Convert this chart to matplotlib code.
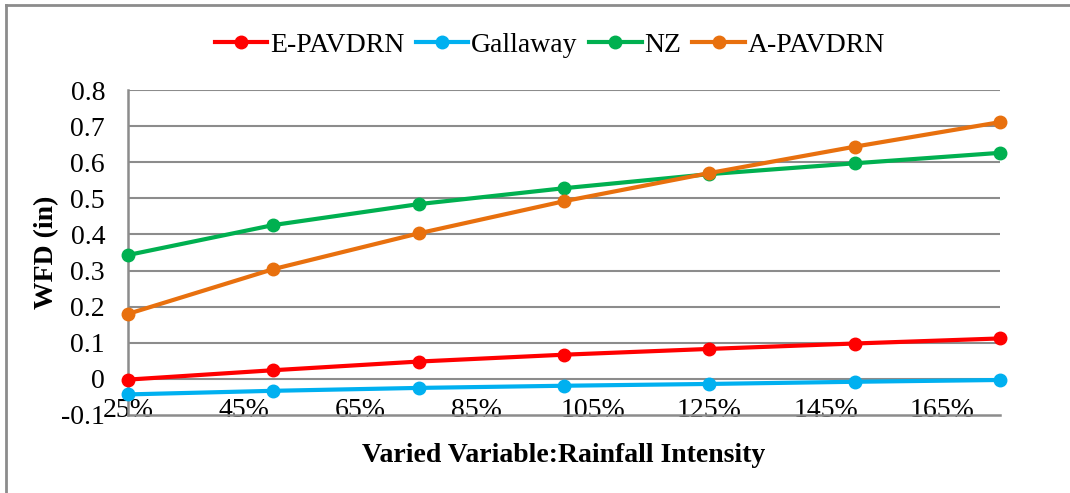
import matplotlib
matplotlib.use("Agg")
import matplotlib.pyplot as plt
from matplotlib.lines import Line2D

intensity = [25, 50, 75, 100, 125, 150, 175]
e_pavdrn = [-0.002, 0.024, 0.048, 0.067, 0.083, 0.098, 0.112]
gallaway = [-0.043, -0.033, -0.025, -0.019, -0.014, -0.008, -0.003]
nz = [0.343, 0.426, 0.484, 0.528, 0.567, 0.597, 0.626]
a_pavdrn = [0.180, 0.304, 0.403, 0.492, 0.570, 0.643, 0.711]
series_names = ["E-PAVDRN", "Gallaway", "NZ", "A-PAVDRN"]
colors = ["#FF0000", "#00B0F0", "#00B050", "#E8700E"]
x_ticks = [25, 45, 65, 85, 105, 125, 145, 165]
x_ticklabels = ["25%", "45%", "65%", "85%", "105%", "125%", "145%", "165%"]
y_ticks = [-0.1, 0, 0.1, 0.2, 0.3, 0.4, 0.5, 0.6, 0.7, 0.8]
y_ticklabels = ["-0.1", "0", "0.1", "0.2", "0.3", "0.4", "0.5", "0.6", "0.7", "0.8"]

plt.rcParams['font.family'] = ['Liberation Serif', 'DejaVu Serif']
fs = 20
grid_c = "#8C8C8C"

fig = plt.figure(figsize=(10.7, 4.93), dpi=100)
ax = fig.add_axes([128/1070, 1-415/493, (1000-128)/1070, (415-90)/493])

for vals, name, c in zip([e_pavdrn, gallaway, nz, a_pavdrn], series_names, colors):
    ax.plot(intensity, vals, color=c, lw=3.0, marker='o', ms=9, label=name,
            solid_capstyle='round', zorder=3, clip_on=False)

ax.set_xlim(25, 175)
ax.set_ylim(-0.1, 0.8)
ax.set_yticks(y_ticks)
ax.set_yticklabels(y_ticklabels)
ax.set_xticks(x_ticks)
ax.set_xticklabels(x_ticklabels)
for yv in y_ticks[1:]:
    ax.axhline(yv, color=grid_c, lw=1.5, zorder=1)
for s in ["top", "right"]:
    ax.spines[s].set_visible(False)
for s in ["left", "bottom"]:
    ax.spines[s].set_color(grid_c)
    ax.spines[s].set_linewidth(1.8)
ax.tick_params(axis='both', length=0, labelsize=fs)
ax.tick_params(axis='x', pad=-12.5)
ax.tick_params(axis='y', pad=16.5)

ax.set_xlabel("Varied Variable:Rainfall Intensity", fontsize=fs, fontweight='bold', labelpad=15)
ax.set_ylabel("WFD (in)", fontsize=fs, fontweight='bold', labelpad=1.5)

handles = [Line2D([0], [0], color=c, lw=3.0, marker='o', ms=9) for c in colors]
fig.legend(handles, series_names, loc='center', bbox_to_anchor=(550/1070, 1-45/493),
           ncol=4, frameon=False, fontsize=fs, handlelength=1.9, handletextpad=0.1,
           columnspacing=0.4)

# outer chart border (top & left visible)
fig.add_artist(Line2D([6/1070, 1.0], [1-5/493, 1-5/493], color="#8C8C8C", lw=2, transform=fig.transFigure))
fig.add_artist(Line2D([6/1070, 6/1070], [0.0, 1-5/493], color="#8C8C8C", lw=2, transform=fig.transFigure))

fig.savefig("out.png", dpi=100)
